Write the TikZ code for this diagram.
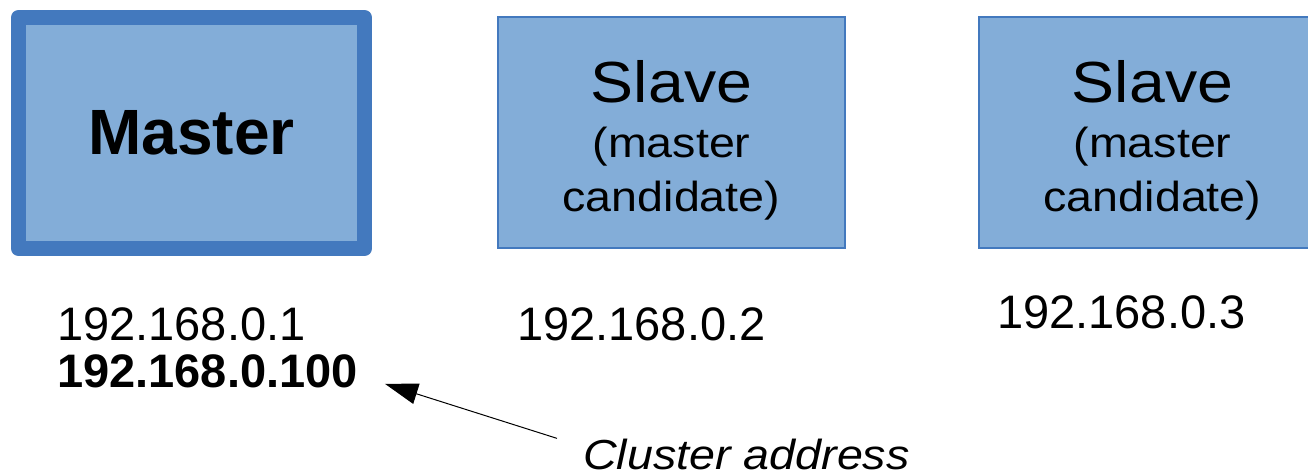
\documentclass[tikz,border=0pt]{standalone}
\usepackage{fontspec}
\setmainfont{Liberation Sans}
\newfontfamily\ancha{Liberation Sans}[FakeStretch=1.11]
\usetikzlibrary{positioning, arrows.meta}
\definecolor{relleno}{RGB}{131,173,216}
\definecolor{borde}{RGB}{67,121,190}
\tikzset{
    caja/.style={rectangle, draw=borde, fill=relleno, minimum width=347pt, minimum height=231pt, inner sep=0pt},
    maestro/.style={caja, line width=15pt, line join=round, minimum width=346pt,
        font=\fontsize{64}{64}\selectfont\bfseries},
    esclavo/.style={caja, line width=1.2pt},
    texto/.style={align=center, inner sep=0pt, font=\ancha\fontsize{42}{54}\selectfont},
    ip/.style={anchor=base west, inner sep=0pt, font=\fontsize{47}{47}\selectfont},
    nota/.style={anchor=base west, inner sep=0pt, font=\ancha\itshape\fontsize{42}{42}\selectfont},
    flecha/.style={-{Triangle[length=33pt,width=21pt]}, line width=1pt}}

\begin{document}
\begin{tikzpicture}[x=1pt, y=-1pt]
    \useasboundingbox (0,0) rectangle (1308,476);
    % Cajas
    \node[maestro] (master) at (191.5,133) {Master};
    \node[esclavo] (slave1) at (671.5,132.5) {};
    \node[esclavo] (slave2) at (1152.5,132.5) {};
    \node[texto] (slave1txt) at ([yshift=-8pt]slave1.center)
        {{\fontsize{58}{58}\selectfont Slave}\\[1pt](master\\candidate)};
    \node[texto] (slave2txt) at ([yshift=-8pt]slave2.center)
        {{\fontsize{58}{58}\selectfont Slave}\\[1pt](master\\candidate)};
    % Direcciones
    \node[ip] (ip1) at (57,340) {192.168.0.1};
    \node[ip, font=\fontsize{47}{47}\selectfont\bfseries] (vip) at (57,387) {192.168.0.100};
    \node[ip] (ip2) at (517,340) {192.168.0.2};
    \node[ip] (ip3) at (997,328) {192.168.0.3};
    \node[nota] (cluster) at (583,469) {Cluster address};
    \draw[flecha] ([xshift=-26pt]cluster.north west) -- ([xshift=27pt,yshift=-13pt]vip.east);
\end{tikzpicture}
\end{document}
